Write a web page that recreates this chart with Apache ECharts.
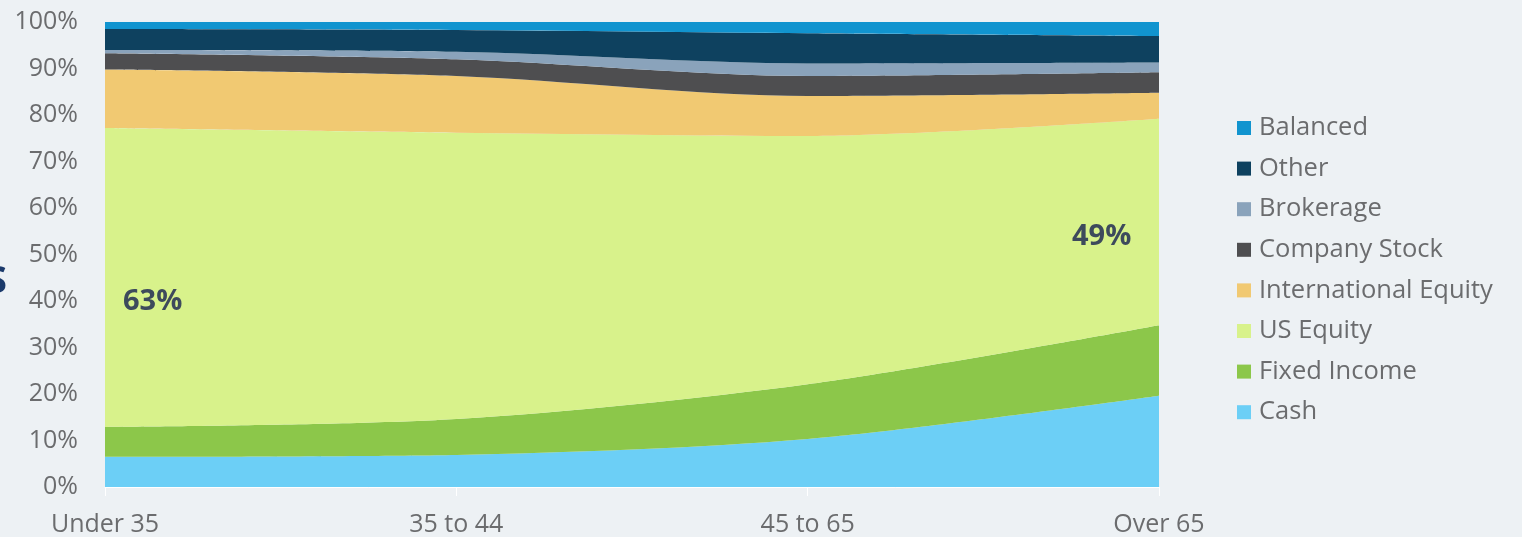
<!DOCTYPE html>
<html>
<head>
<meta charset="utf-8">
<script src="https://cdn.jsdelivr.net/npm/echarts@6/dist/echarts.min.js"></script>
<style>
html,body{margin:0;padding:0;background:#edf1f4;}
#chart{width:1522px;height:537px;}
</style>
</head>
<body>
<div id="chart"></div>
<script>
const categories = ['Under 35', '35 to 44', '45 to 65', 'Over 65'];
const cash = [6.5, 6.9, 10.3, 19.6];
const fixedIncome = [6.4, 7.7, 11.8, 15.2];
const usEquity = [64.3, 61.6, 53.4, 44.4];
const intlEquity = [12.6, 12.2, 8.6, 5.6];
const companyStock = [3.5, 3.6, 4.3, 4.4];
const brokerage = [0.7, 1.6, 2.7, 2.1];
const other = [4.5, 4.7, 6.5, 5.7];
const balanced = [1.5, 1.7, 2.4, 3.0];
const yTicks = [0, 10, 20, 30, 40, 50, 60, 70, 80, 90, 100];

const seriesDefs = [
  ['Cash', cash, '#6ccff6'],
  ['Fixed Income', fixedIncome, '#8cc74a'],
  ['US Equity', usEquity, '#d8f28b'],
  ['International Equity', intlEquity, '#f1c972'],
  ['Company Stock', companyStock, '#4e4e50'],
  ['Brokerage', brokerage, '#8aa3bb'],
  ['Other', other, '#0e415f'],
  ['Balanced', balanced, '#1194cf']
];

const font = '"Open Sans", "Liberation Sans", sans-serif';
const chart = echarts.init(document.getElementById('chart'));
chart.setOption({
  backgroundColor: '#edf1f4',
  animation: false,
  textStyle: {fontFamily: font},
  grid: {left: 105, right: 363, top: 22, bottom: 49, containLabel: false},
  legend: {
    orient: 'vertical',
    left: 1237,
    top: 115,
    padding: 0,
    itemWidth: 14,
    itemHeight: 14,
    itemGap: 14.6,
    icon: 'rect',
    data: seriesDefs.map(d => d[0]).reverse(),
    textStyle: {fontSize: 25.5, color: '#6b6c6e', fontFamily: font, padding: [0, 0, 0, 3]}
  },
  xAxis: {
    type: 'category',
    data: categories,
    boundaryGap: false,
    axisLine: {lineStyle: {color: '#ffffff', width: 1}},
    axisTick: {show: true, length: 9, lineStyle: {color: '#ffffff'}},
    axisLabel: {fontSize: 25, color: '#6b6c6e', margin: 25, fontFamily: font}
  },
  yAxis: {
    type: 'value',
    min: yTicks[0],
    max: yTicks[yTicks.length - 1],
    interval: 10,
    splitLine: {show: false},
    axisLine: {show: false},
    axisTick: {show: false},
    axisLabel: {fontSize: 25, color: '#6b6c6e', margin: 27, formatter: '{value}%', fontFamily: font}
  },
  series: seriesDefs.map(([name, data, color]) => ({
    name, type: 'line', stack: 'total', data,
    smooth: 0.3,
    showSymbol: false,
    symbol: 'none',
    lineStyle: {width: 0},
    itemStyle: {color},
    areaStyle: {color, opacity: 1}
  })),
  graphic: [
    {type: 'text', z: 100, left: 123, top: 287, style: {text: '63%', fontSize: 29, fontWeight: 'bold', fill: '#3d4a5c', fontFamily: font}},
    {type: 'text', z: 100, left: 1072, top: 222, style: {text: '49%', fontSize: 29, fontWeight: 'bold', fill: '#3d4a5c', fontFamily: font}},
    {type: 'text', z: 100, left: -14, top: 263, style: {text: 'S', fontSize: 38, fontWeight: 'bold', fill: '#1b3a6b', fontFamily: font}}
  ]
});
</script>
</body>
</html>
